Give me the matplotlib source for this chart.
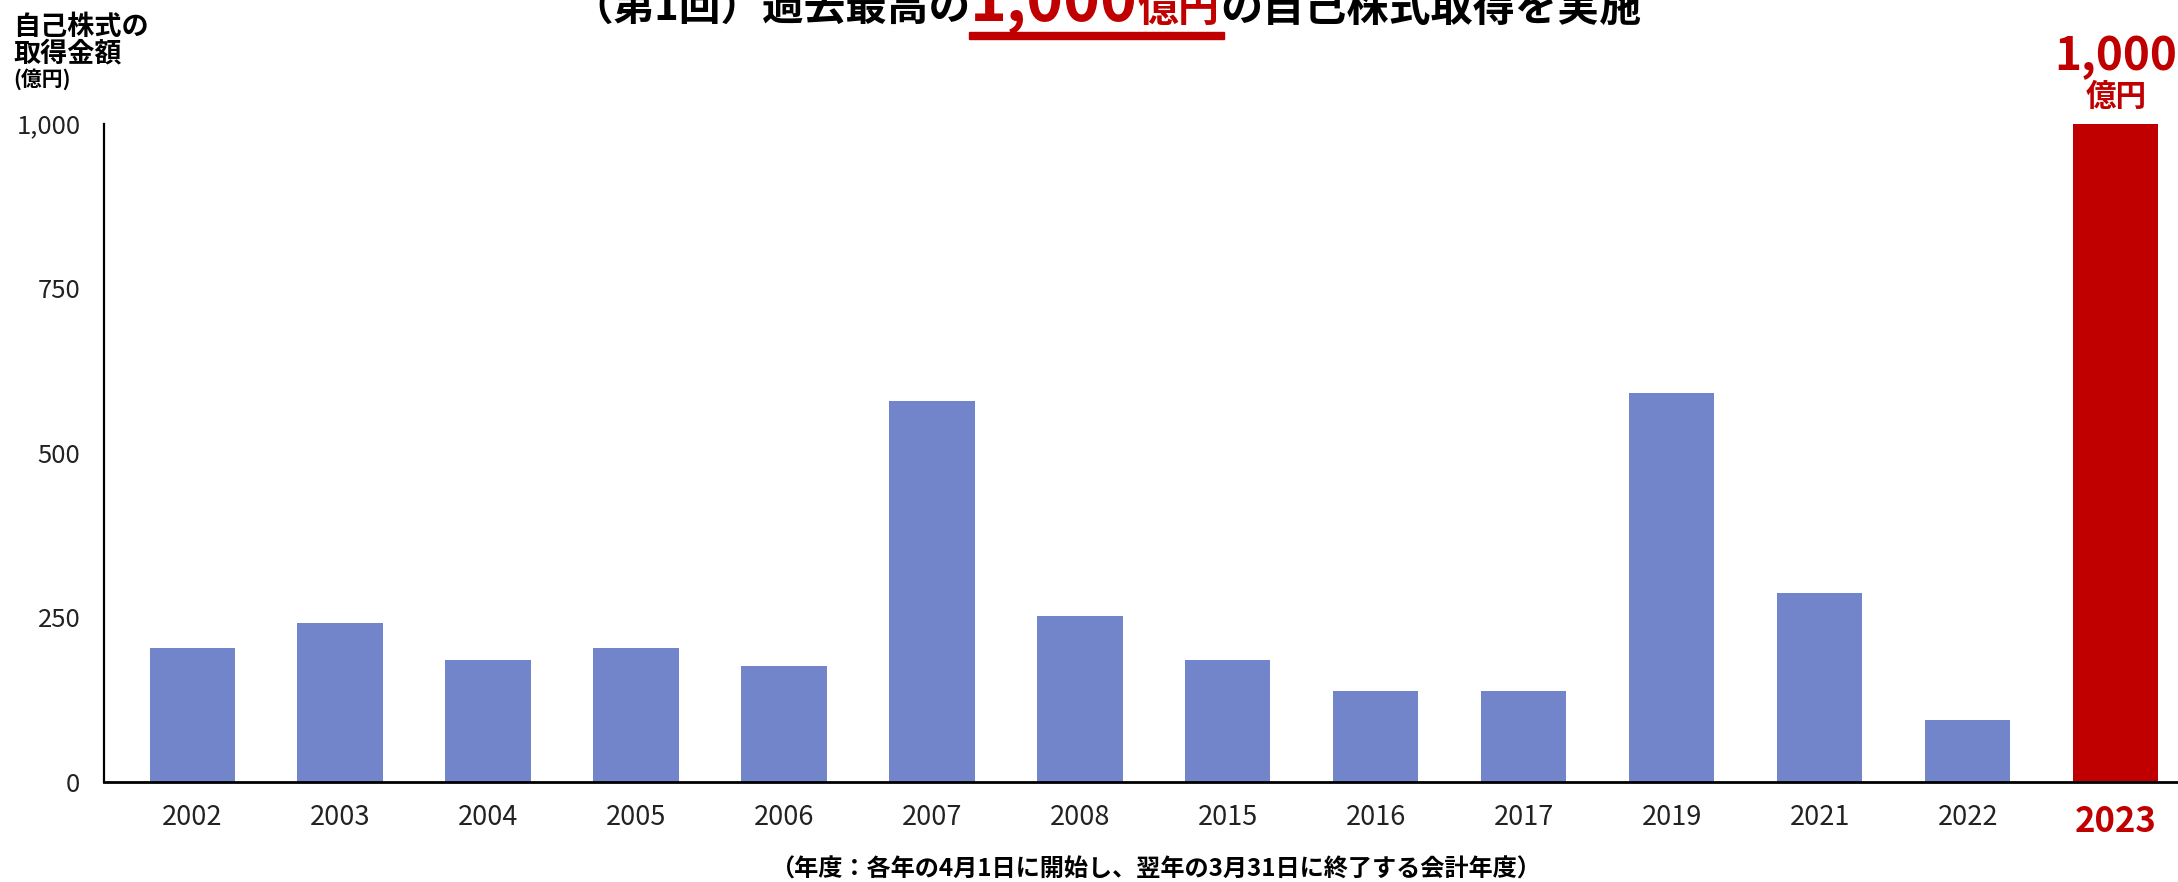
import matplotlib
matplotlib.use('Agg')
import matplotlib.pyplot as plt
from matplotlib.patches import Rectangle

# ---------------- data ----------------
years = ['2002', '2003', '2004', '2005', '2006', '2007', '2008',
         '2015', '2016', '2017', '2019', '2021', '2022', '2023']
amounts = [203, 241, 185, 203, 176, 578, 252, 185, 138, 138, 591, 287, 94, 1000]
highlight_year = '2023'
yticks = [0, 250, 500, 750, 1000]
ytick_labels = ['0', '250', '500', '750', '1,000']
highlight_value_label = '1,000'
highlight_unit_label = '億円'
ylabel_lines = ['自己株式の', '取得金額']
ylabel_unit = '(億円)'
title_parts = ['（第1回）過去最高の', '1,000', '億円', 'の自己株式取得を実施']
footnote = '（年度：各年の4月1日に開始し、翌年の3月31日に終了する会計年度）'

# ---------------- style ----------------
plt.rcParams['font.family'] = ['Noto Sans CJK JP', 'DejaVu Sans']
BLUE = '#7285CA'
RED = '#C00000'
W, H = 2178, 882
DPI = 100

fig = plt.figure(figsize=(W / DPI, H / DPI), dpi=DPI)
ax = fig.add_axes([104 / W, 1 - 781.6 / H, 1 - 104 / W, (781.6 - 123.6) / H])

x = list(range(len(years)))
colors = [RED if y == highlight_year else BLUE for y in years]
ax.bar(x, amounts, width=0.575, color=colors, zorder=2)

ax.set_xlim(-0.595, 13.42)
ax.set_ylim(0, 1000)
ax.set_yticks(yticks)
ax.set_yticklabels(ytick_labels, fontsize=18.5, color='#222222')
ax.set_xticks(x)
ax.set_xticklabels(years, fontsize=19.5, color='#222222')
ax.tick_params(axis='both', length=0)
ax.tick_params(axis='y', pad=17)
ax.tick_params(axis='x', pad=16)
for lbl, y in zip(ax.get_xticklabels(), years):
    if y == highlight_year:
        lbl.set_color(RED)
        lbl.set_fontweight('bold')
        lbl.set_fontsize(25)

for s in ['top', 'right']:
    ax.spines[s].set_visible(False)
ax.spines['left'].set_linewidth(1.6)
ax.spines['bottom'].set_linewidth(2.0)
ax.spines['left'].set_color('black')
ax.spines['bottom'].set_color('black')

# highlight annotation
hi = years.index(highlight_year)
ax.annotate(highlight_unit_label, xy=(hi, amounts[hi]), xytext=(0, 12.5),
            textcoords='offset points', ha='center', va='baseline',
            fontsize=22, fontweight='bold', color=RED, annotation_clip=False)
ax.annotate(highlight_value_label, xy=(hi, amounts[hi]), xytext=(0, 38.5),
            textcoords='offset points', ha='center', va='baseline',
            fontsize=33, fontweight='bold', color=RED, annotation_clip=False)

# y label (top-left)
fig.text(13 / W, 1 - 35 / H, ylabel_lines[0], fontsize=19.5, fontweight='bold',
         ha='left', va='baseline', color='black')
fig.text(13 / W, 1 - 61 / H, ylabel_lines[1], fontsize=19.5, fontweight='bold',
         ha='left', va='baseline', color='black')
fig.text(13 / W, 1 - 86 / H, ylabel_unit, fontsize=15, fontweight='bold',
         ha='left', va='baseline', color='black')

# footnote
fig.text(1156 / W, 5 / H, footnote, fontsize=17.4, fontweight='bold',
         ha='center', va='baseline', color='black')

# title (partially cut off at top, as in the reference)
fig.canvas.draw()
renderer = fig.canvas.get_renderer()
styles = [('black', 30), (RED, 45), (RED, 29.5), ('black', 30.3)]
xpos = 571
base = H - 21
extents = []
for s, (c, fs) in zip(title_parts, styles):
    t = fig.text(xpos / W, base / H, s, color=c, fontsize=fs, fontweight='bold',
                 ha='left', va='baseline')
    bb = t.get_window_extent(renderer)
    extents.append(bb)
    xpos = bb.x1
ux0 = extents[1].x0 - 1
ux1 = extents[2].x1 + 4
fig.patches.append(Rectangle((ux0 / W, 1 - 39 / H), (ux1 - ux0) / W, 7 / H,
                             transform=fig.transFigure, color=RED, zorder=5))

fig.savefig('out.png', dpi=DPI)
